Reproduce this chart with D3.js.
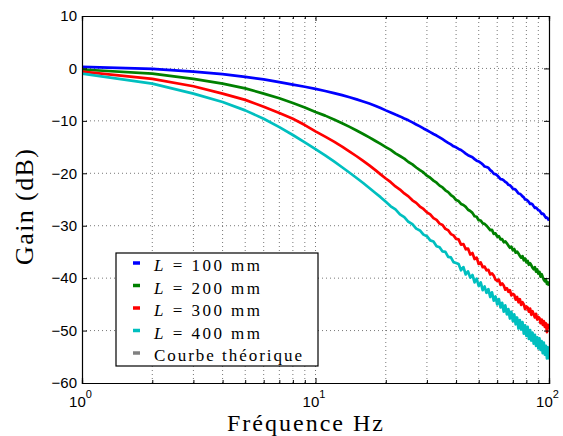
<!DOCTYPE html>
<html>
<head>
<meta charset="utf-8">
<script src="https://cdnjs.cloudflare.com/ajax/libs/d3/7.8.5/d3.min.js"></script>
<style>
  body { margin: 0; background: #fff; }
  .tick text { font-family: "Liberation Sans", Arial, sans-serif; font-size: 15px; fill: #000; }
  .grid line { stroke: #555; stroke-dasharray: 1,3; stroke-width: 0.8; }
</style>
</head>
<body>
<div id="chart"></div>
<script>
// measured gain (dB) at 1 Hz steps, 1..100 Hz
const freqs = d3.range(1, 101);

const gain100 = [0.3,-0.1,-0.6,-1.1,-1.6,-2.1,-2.6,-3.1,-3.5,-3.9,
  -4.3,-4.7,-5.1,-5.5,-5.9,-6.3,-6.7,-7.1,-7.55,-8.0,
  -8.4,-8.8,-9.15,-9.55,-9.9,-10.3,-10.7,-11.05,-11.45,-11.8,
  -12.15,-12.5,-12.8,-13.15,-13.5,-13.85,-14.2,-14.5,-14.85,-15.05,
  -15.35,-15.55,-15.9,-16.25,-16.55,-16.75,-16.95,-17.3,-17.6,-17.75,
  -18.0,-18.3,-18.7,-18.8,-18.95,-19.4,-19.65,-20.1,-20.15,-20.4,
  -20.75,-21.1,-21.15,-21.35,-21.65,-21.85,-22.2,-22.3,-22.55,-22.95,
  -23.0,-23.15,-23.5,-23.85,-23.9,-24.1,-24.4,-24.6,-25.0,-25.05,
  -25.2,-25.5,-25.85,-25.8,-25.95,-26.3,-26.6,-26.55,-26.75,-27.05,
  -27.1,-27.4,-27.75,-27.7,-27.85,-28.2,-28.5,-28.45,-28.65,-29.05];

const gain200 = [-0.2,-1.0,-2.0,-2.9,-3.8,-4.8,-5.7,-6.6,-7.45,-8.3,
  -9.0,-9.75,-10.45,-11.15,-11.85,-12.5,-13.15,-13.8,-14.4,-15.0,
  -15.55,-16.2,-16.7,-17.2,-17.85,-18.3,-18.9,-19.4,-19.85,-20.45,
  -20.85,-21.4,-21.8,-22.35,-22.7,-23.25,-23.6,-24.15,-24.5,-25.1,
  -25.3,-25.85,-26.05,-26.4,-26.95,-27.2,-27.55,-28.2,-28.3,-28.95,
  -29.0,-29.55,-29.65,-30.0,-30.4,-30.85,-30.8,-31.55,-31.45,-32.1,
  -32.0,-32.6,-32.55,-33.15,-33.0,-33.35,-33.8,-34.2,-34.0,-34.7,
  -34.45,-35.15,-34.95,-35.3,-35.75,-36.1,-35.8,-36.6,-36.25,-37.0,
  -36.7,-37.45,-37.15,-37.55,-38.0,-38.3,-37.9,-38.75,-38.35,-39.15,
  -38.8,-39.7,-39.25,-39.8,-40.3,-40.6,-40.25,-41.1,-40.8,-41.45];

const gain300 = [-0.6,-2.0,-3.4,-4.8,-6.0,-7.3,-8.5,-9.6,-10.8,-12.0,
  -13.0,-13.95,-14.9,-15.85,-16.75,-17.65,-18.5,-19.35,-20.2,-21.0,
  -21.7,-22.5,-23.1,-23.85,-24.4,-25.15,-25.65,-26.35,-26.8,-27.45,
  -27.85,-28.55,-28.9,-29.6,-29.85,-30.6,-30.85,-31.6,-31.85,-32.5,
  -32.6,-33.6,-33.5,-34.5,-34.35,-35.5,-35.2,-36.35,-36.1,-37.3,
  -37.0,-37.9,-37.8,-38.5,-38.4,-39.3,-39.1,-39.5,-40.3,-40.5,
  -40.3,-41.3,-41.0,-41.4,-42.2,-41.9,-42.6,-42.3,-43.3,-43.0,
  -43.2,-44.1,-43.6,-44.6,-44.0,-45.1,-44.6,-45.0,-45.9,-45.4,
  -45.6,-46.4,-45.8,-47.0,-46.3,-46.9,-47.5,-46.8,-47.9,-47.4,
  -47.6,-48.6,-47.9,-48.9,-48.2,-49.3,-48.6,-50.3,-48.9,-49.8];

const gain400 = [-1.0,-2.9,-4.8,-6.4,-8.0,-9.6,-11.2,-12.7,-14.1,-15.4,
  -16.6,-17.75,-18.85,-19.9,-20.9,-21.85,-22.8,-23.7,-24.55,-25.45,
  -26.3,-26.9,-27.85,-28.35,-29.25,-29.7,-30.55,-30.9,-31.7,-32.0,
  -32.8,-33.0,-33.9,-34.1,-34.9,-35.0,-35.95,-36.05,-36.95,-37.1,
  -37.3,-38.5,-37.9,-39.3,-38.7,-39.9,-39.4,-40.8,-40.1,-41.5,
  -40.8,-42.3,-41.6,-42.8,-42.1,-43.6,-42.7,-44.3,-43.5,-45.0,
  -44.0,-45.6,-44.7,-46.4,-45.2,-46.9,-45.9,-47.7,-46.4,-48.2,
  -46.9,-48.8,-47.5,-49.6,-48.0,-49.8,-48.4,-50.6,-49.0,-51.0,
  -49.3,-51.6,-49.9,-51.9,-50.4,-52.5,-50.8,-52.9,-51.3,-53.4,
  -51.5,-53.7,-52.0,-54.3,-52.3,-54.6,-52.9,-55.3,-53.2,-55.5];

const seriesNames = ["100", "200", "300", "400"];
const seriesColors = ["#0000ff", "#008000", "#ff0000", "#00bfbf"];
const seriesValues = [gain100, gain200, gain300, gain400];
const theoryLabel = "Courbe théorique";
const theoryColor = "#808080";

const yTicks = [-60, -50, -40, -30, -20, -10, 0, 10];
const xMajor = [1, 10, 100];
const xMinor = [2,3,4,5,6,7,8,9,20,30,40,50,60,70,80,90];

const width = 563, height = 436;
const margin = {top: 16, right: 14, bottom: 53, left: 82};

const svg = d3.select("#chart").append("svg")
    .attr("width", width)
    .attr("height", height);

const x = d3.scaleLog().domain([1, 100]).range([margin.left, width - margin.right]);
const y = d3.scaleLinear().domain([-60, 10]).range([height - margin.bottom, margin.top]);

// grid
svg.append("g").attr("class", "grid")
    .selectAll("line")
    .data(xMinor.concat([10]))
    .enter().append("line")
    .attr("x1", d => x(d)).attr("x2", d => x(d))
    .attr("y1", y(-60)).attr("y2", y(10));
svg.append("g").attr("class", "grid")
    .selectAll("line")
    .data(yTicks.filter(d => d > -60 && d < 10))
    .enter().append("line")
    .attr("x1", x(1)).attr("x2", x(100))
    .attr("y1", d => y(d)).attr("y2", d => y(d));

// curves
svg.append("clipPath").attr("id", "clip")
    .append("rect")
    .attr("x", x(1)).attr("y", y(10))
    .attr("width", x(100) - x(1)).attr("height", y(-60) - y(10));

const line = d3.line()
    .x((d, i) => x(freqs[i]))
    .y(d => y(d));

svg.append("g")
    .attr("clip-path", "url(#clip)")
    .selectAll("path")
    .data(seriesValues)
    .enter().append("path")
    .attr("fill", "none")
    .attr("stroke", (d, i) => seriesColors[i])
    .attr("stroke-width", 2.7)
    .attr("stroke-linejoin", "round")
    .attr("d", line);

// axes (ticks inside, MATLAB style)
const bottom = svg.append("g")
    .attr("transform", `translate(0,${y(-60)})`)
    .call(d3.axisBottom(x).tickValues(xMajor).tickSize(-5).tickPadding(13).tickFormat(""));
bottom.selectAll(".tick text")
    .attr("dx", -2)
    .each(function(d) {
        const t = d3.select(this);
        t.append("tspan").text("10");
        t.append("tspan").attr("dy", -9).attr("font-size", 11).text(Math.round(Math.log10(d)));
    });
svg.append("g")
    .attr("transform", `translate(0,${y(-60)})`)
    .call(d3.axisBottom(x).tickValues(xMinor).tickSize(-3).tickFormat(""));
svg.append("g")
    .attr("transform", `translate(0,${y(10)})`)
    .call(d3.axisTop(x).tickValues(xMajor).tickSize(-5).tickFormat(""));
svg.append("g")
    .attr("transform", `translate(0,${y(10)})`)
    .call(d3.axisTop(x).tickValues(xMinor).tickSize(-3).tickFormat(""));
svg.append("g")
    .attr("transform", `translate(${x(1)},0)`)
    .call(d3.axisLeft(y).tickValues(yTicks).tickSize(-5).tickPadding(5));
svg.append("g")
    .attr("transform", `translate(${x(100)},0)`)
    .call(d3.axisRight(y).tickValues(yTicks).tickSize(-5).tickFormat(""));
svg.selectAll(".domain").attr("stroke", "#000").attr("stroke-width", 1.2);
svg.selectAll(".tick line").attr("stroke", "#000");

// axis titles
svg.append("text")
    .attr("x", 305)
    .attr("y", 431)
    .attr("text-anchor", "middle")
    .attr("font-family", "'Liberation Serif', serif")
    .attr("font-size", 24)
    .attr("textLength", 156)
    .text("Fréquence Hz");
svg.append("text")
    .attr("transform", "translate(33,207) rotate(-90)")
    .attr("text-anchor", "middle")
    .attr("font-family", "'Liberation Serif', serif")
    .attr("font-size", 26)
    .attr("textLength", 116)
    .text("Gain (dB)");

// legend
const legend = svg.append("g").attr("transform", "translate(116,253)");
legend.append("rect")
    .attr("width", 202).attr("height", 113)
    .attr("fill", "#fff").attr("stroke", "#000").attr("stroke-width", 1.2);
const entries = seriesNames.map((n, i) => ({name: n, color: seriesColors[i]}))
    .concat([{name: null, color: theoryColor}]);
const item = legend.selectAll(".item")
    .data(entries)
    .enter().append("g")
    .attr("class", "item")
    .attr("transform", (d, i) => `translate(0,${10 + i * 22.5})`);
item.append("line")
    .attr("x1", 17).attr("x2", 24)
    .attr("stroke", d => d.color).attr("stroke-width", 3.5);
const label = item.append("text")
    .attr("x", 38).attr("y", 8)
    .attr("font-family", "'Liberation Serif', serif")
    .attr("font-size", 17);
label.filter(d => d.name !== null)
    .attr("textLength", 106)
    .each(function(d) {
        const t = d3.select(this);
        t.append("tspan").attr("font-style", "italic").text("L");
        t.append("tspan").text(" = " + d.name + " mm");
    });
label.filter(d => d.name === null)
    .attr("textLength", 148)
    .text(theoryLabel);
</script>
</body>
</html>
